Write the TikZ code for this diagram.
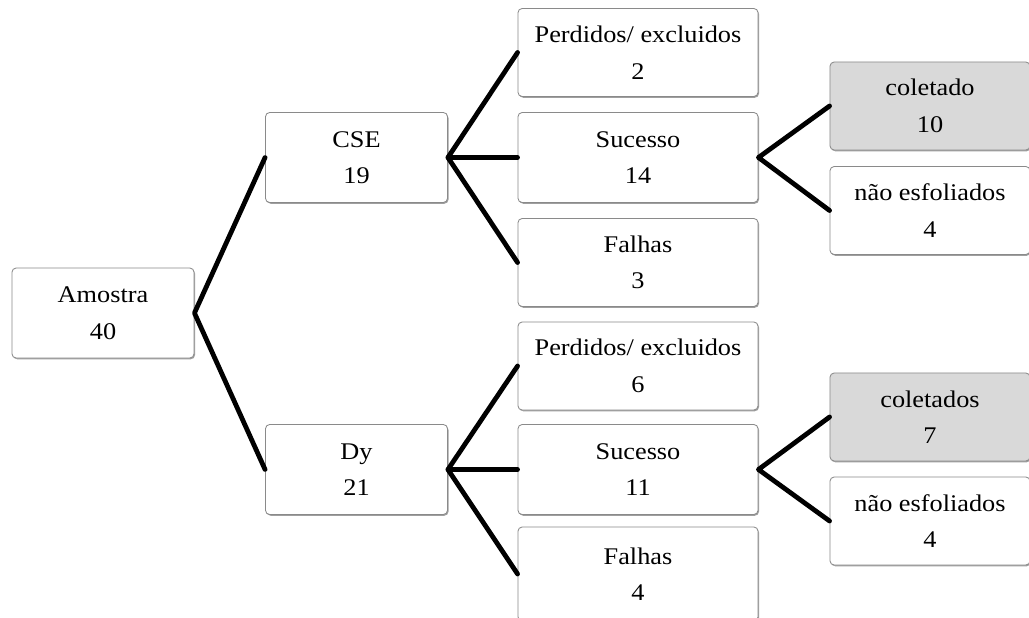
\documentclass[tikz,border=0pt]{standalone}
\usepackage{fontspec}
\setmainfont[FakeStretch=1.1]{Liberation Serif}
\usetikzlibrary{shadows}
\definecolor{boxgray}{HTML}{D9D9D9}
\definecolor{edgegray}{HTML}{8A8A8A}
\tikzset{
  bx/.style={draw=edgegray, line width=0.6pt, rounded corners=3pt, fill=white,
    inner sep=0pt, align=center, minimum height=2.25cm,
    font=\fontsize{17}{26}\selectfont,
    drop shadow={shadow xshift=0.7pt, shadow yshift=-0.9pt, fill=gray!75, opacity=1}},
  gbx/.style={bx, fill=boxgray},
  w1/.style={minimum width=4.55cm},
  w2/.style={minimum width=6cm},
  w3/.style={minimum width=5cm},
  conn/.style={line width=3.4pt, line cap=round, line join=round}
}
\begin{document}
\begin{tikzpicture}[x=0.025cm,y=-0.025cm]
\fill[white] (0,0) rectangle (1029,617);
\clip (0,0) rectangle (1029,617);
\node[bx,w1] (am) at (103,313) {Amostra\\40};
\node[bx,w1] (cse) at (356.5,157.5) {CSE\\19};
\node[bx,w1] (dy) at (356.5,469.5) {Dy\\21};
\node[bx,w2,minimum height=2.2cm] (p1) at (638,52.5) {Perdidos/ excluidos\\2};
\node[bx,w2] (s1) at (638,157.5) {Sucesso\\14};
\node[bx,w2,minimum height=2.2cm] (f1) at (638,262.5) {Falhas\\3};
\node[bx,w2,minimum height=2.2cm] (p2) at (638,366) {Perdidos/ excluidos\\6};
\node[bx,w2] (s2) at (638,469.5) {Sucesso\\11};
\node[bx,w2,minimum height=2.35cm] (f2) at (638,574) {Falhas\\4};
\node[gbx,w3,minimum height=2.2cm] (c1) at (930,106) {coletado\\10};
\node[bx,w3,minimum height=2.2cm] (n1) at (930,210.5) {não esfoliados\\4};
\node[gbx,w3,minimum height=2.2cm] (c2) at (930,417) {coletados\\7};
\node[bx,w3,minimum height=2.2cm] (n2) at (930,521) {não esfoliados\\4};
\draw[conn] (cse.west) -- (am.east) -- (dy.west);
\draw[conn] (p1.west) -- (cse.east) -- (f1.west);
\draw[conn] (cse.east) -- (s1.west);
\draw[conn] (p2.west) -- (dy.east) -- (f2.west);
\draw[conn] (dy.east) -- (s2.west);
\draw[conn] (c1.west) -- (s1.east) -- (n1.west);
\draw[conn] (c2.west) -- (s2.east) -- (n2.west);
\end{tikzpicture}
\end{document}
